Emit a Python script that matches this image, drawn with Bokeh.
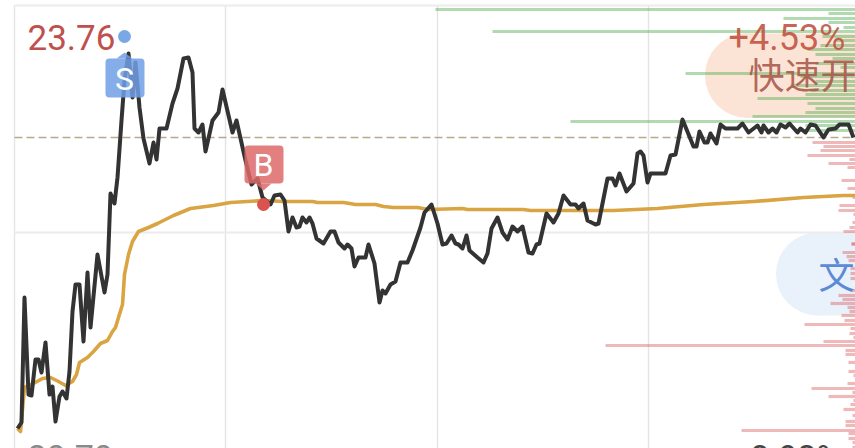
from bokeh.plotting import figure
from bokeh.models import BoxAnnotation, Range1d
from bokeh.core.properties import value
from bokeh.embed import file_html
from bokeh.resources import INLINE

# elapsed time (session units, 240 min = 846 units)
line_t = [3,7,10,14,17,21,24,27,31,35,38,41,45,48,52,55,58,61,65,69,73,76,83,90,93,96,100,103,107,110,114,118,121,125,129,135,139,142,145,152,158,163,169,174,178,180,184,188,191,198,204,208,218,222,231,237,243,248,256,260,266,270,274,278,282,285,288,292,295,298,302,309,316,320,324,330,333,337,340,344,351,354,360,365,368,371,376,381,386,393,398,406,410,417,423,428,432,437,441,444,448,452,455,463,469,473,477,483,488,493,498,503,508,514,518,522,525,532,539,544,549,556,561,564,569,573,581,584,593,598,601,605,612,619,623,626,629,633,636,651,656,661,668,679,682,685,690,693,696,702,706,711,723,728,734,743,747,749,754,758,762,766,771,775,783,786,791,796,801,809,814,821,825,834,839]
line_price = [19.82,19.88,21.13,20.16,20.15,20.51,20.51,20.38,20.68,20.16,20.24,19.89,20.14,20.19,20.12,20.39,20.99,21.26,21.26,20.69,21.38,20.83,21.56,21.18,21.36,22.17,22.07,22.33,22.90,23.30,23.57,23.13,23.48,23.03,22.72,22.47,22.68,22.51,22.82,22.82,23.07,23.22,23.52,23.53,23.38,22.82,22.78,22.86,22.59,22.90,22.98,23.21,22.78,22.90,22.50,22.26,22.32,22.13,22.06,22.15,22.16,22.10,21.79,21.93,21.83,21.84,21.93,21.88,21.93,21.87,21.72,21.67,21.79,21.79,21.68,21.62,21.66,21.62,21.44,21.53,21.53,21.66,21.47,21.08,21.20,21.17,21.26,21.29,21.48,21.48,21.60,21.83,21.98,22.06,21.87,21.66,21.67,21.75,21.67,21.66,21.62,21.75,21.60,21.53,21.48,21.57,21.82,21.93,21.78,21.71,21.84,21.79,21.84,21.58,21.57,21.66,21.67,21.97,21.88,21.97,22.15,22.06,22.06,22.02,22.07,21.90,21.86,21.87,22.32,22.32,22.25,22.37,22.19,22.27,22.57,22.59,22.55,22.28,22.37,22.37,22.55,22.56,22.91,22.64,22.64,22.79,22.68,22.68,22.77,22.67,22.86,22.82,22.82,22.87,22.78,22.85,22.78,22.85,22.78,22.82,22.78,22.86,22.83,22.87,22.78,22.82,22.78,22.86,22.85,22.73,22.81,22.82,22.86,22.86,22.73]

avg_t = [3,6,10,19,28,36,44,51,58,62,65,73,79,86,93,98,101,104,108,110,114,118,124,134,143,159,176,199,216,249,269,298,303,329,341,361,369,379,403,414,448,453,509,516,556,599,643,689,739,789,829,841]
avg_price = [19.82,19.79,20.23,20.27,20.32,20.33,20.29,20.25,20.29,20.36,20.48,20.53,20.59,20.67,20.70,20.79,20.83,20.93,21.06,21.36,21.56,21.69,21.79,21.83,21.87,21.95,22.02,22.05,22.08,22.10,22.09,22.09,22.08,22.08,22.06,22.06,22.04,22.03,22.03,22.01,22.02,22.01,22.01,22.00,22.00,22.00,22.02,22.06,22.09,22.13,22.15,22.15]

green_level = [24.01,23.97,23.92,23.88,23.83,23.79,23.74,23.70,23.65,23.61,23.56,23.52,23.47,23.43,23.37,23.34,23.29,23.25,23.20,23.16,23.12,23.07,23.02,22.98,22.94,22.89,22.85,22.80]
green_vol = [420,27,72,27,12,363,33,20,35,48,40,23,40,15,170,55,40,65,45,50,98,48,40,50,103,285,50,55]

red_level = [22.68,22.64,22.60,22.55,22.51,22.47,22.43,22.30,22.22,22.13,22.05,22.00,21.96,21.88,21.83,21.79,21.67,21.66,21.58,21.54,21.50,21.42,21.37,21.32,21.20,21.15,21.11,21.07,21.03,20.99,20.95,20.90,20.86,20.82,20.77,20.73,20.69,20.65,20.60,20.56,20.48,20.39,20.35,20.27,20.22,20.18,20.14,20.10,20.06,20.01,19.95,19.89,19.85,19.80,19.77,19.72,19.68,19.63]
red_vol = [43,32,35,48,6,27,8,14,8,3,16,17,2,3,6,12,4,4,13,9,7,5,5,5,5,17,13,25,8,6,14,11,51,5,6,2,32,250,10,10,7,7,2,8,44,3,27,2,5,12,3,10,10,114,7,7,3,3]

grid_t = [0,211,423,634]
grid_price = [24.05,21.78]
prev_close = 22.73
x_start, x_end, y_bottom, y_top = -14, 841, 19.62, 24.10

p = figure(width=855, height=448, output_backend="svg", toolbar_location=None,
           x_range=Range1d(x_start, x_end), y_range=Range1d(y_bottom, y_top),
           min_border=0, outline_line_color=None)
p.axis.visible = False
p.grid.visible = False
p.background_fill_color = "#ffffff"

# pills
p.scatter([733], [23.35], size=85, marker="circle", fill_color="#fbe3d5", line_color=None)
p.quad(left=[733], right=[x_end], top=[23.77], bottom=[22.93], fill_color="#fbe3d5", line_color=None)
p.scatter([803], [21.365], size=83, marker="circle", fill_color="#e9f1fb", line_color=None)
p.quad(left=[803], right=[x_end], top=[21.78], bottom=[20.95], fill_color="#e9f1fb", line_color=None)

# grid
p.segment(x0=grid_t, x1=grid_t, y0=[24.05]*4, y1=[y_bottom]*4, line_color="#e4e4e4", line_width=1.4)
p.segment(x0=[0, 0], x1=[x_end, x_end], y0=grid_price, y1=grid_price, line_color="#ececec", line_width=1.8)

# volume
p.hbar(y=green_level, left=[x_end - v for v in green_vol], right=x_end, height=0.032,
       fill_color="#5fb25a", fill_alpha=0.48, line_color=None)
p.hbar(y=red_level, left=[x_end - v for v in red_vol], right=x_end, height=0.032,
       fill_color="#d8585a", fill_alpha=0.42, line_color=None)

p.line([0, x_end], [prev_close, prev_close], line_color="#b5ab8c", line_width=1.6, line_dash="8 4")
p.line(avg_t, avg_price, line_color="#d9a441", line_width=3.6, line_join="round")
p.line(line_t, line_price, line_color="#333333", line_width=4, line_join="round")

# markers
p.scatter([110], [23.74], size=13, marker="circle", fill_color="#7aa7e6", line_color=None)
p.scatter([249], [22.06], size=13, marker="circle", fill_color="#d9534f", line_color=None)

p.patch([102, 110, 118], [23.52, 23.58, 23.52], fill_color="#6f9fe6", fill_alpha=0.85, line_color=None, level="overlay")
p.patch([241, 249, 257], [22.27, 22.20, 22.27], fill_color="#dd6a6a", fill_alpha=0.85, line_color=None, level="overlay")
p.add_layout(BoxAnnotation(left=91, right=130, top=23.52, bottom=23.13, fill_color="#6f9fe6", fill_alpha=0.85,
                           line_alpha=0, border_radius=4))
p.add_layout(BoxAnnotation(left=230, right=269, top=22.65, bottom=22.27, fill_color="#dd6a6a", fill_alpha=0.85,
                           line_alpha=0, border_radius=4))

def label(x, y, s, color, size, align="left", alpha=1.0, font="Roboto", style="normal"):
    p.text([x], [y], text=[s], text_color=color, text_alpha=alpha, text_font=value(font),
           text_font_size=size, text_align=align, text_baseline="middle", text_font_style=style, level="overlay")

label(13, 23.73, "23.76", "#c0504d", "35px")
label(714, 23.73, "+4.53%", "#c0503f", "36px", alpha=0.88)
label(734, 23.375, "快速开", "#a8584a", "36px", alpha=0.9, font="Noto Sans CJK SC")
label(804, 21.38, "文", "#5b8ad6", "36px", font="Noto Sans CJK SC")
label(110, 23.32, "S", "#ffffff", "32px", align="center")
label(249, 22.46, "B", "#ffffff", "32px", align="center")
label(13, 19.54, "20.70", "#8a8a8a", "34px")
label(827, 19.54, "-8.93%", "#444444", "34px", align="right")

open("out.html", "w").write(file_html(p, INLINE))
